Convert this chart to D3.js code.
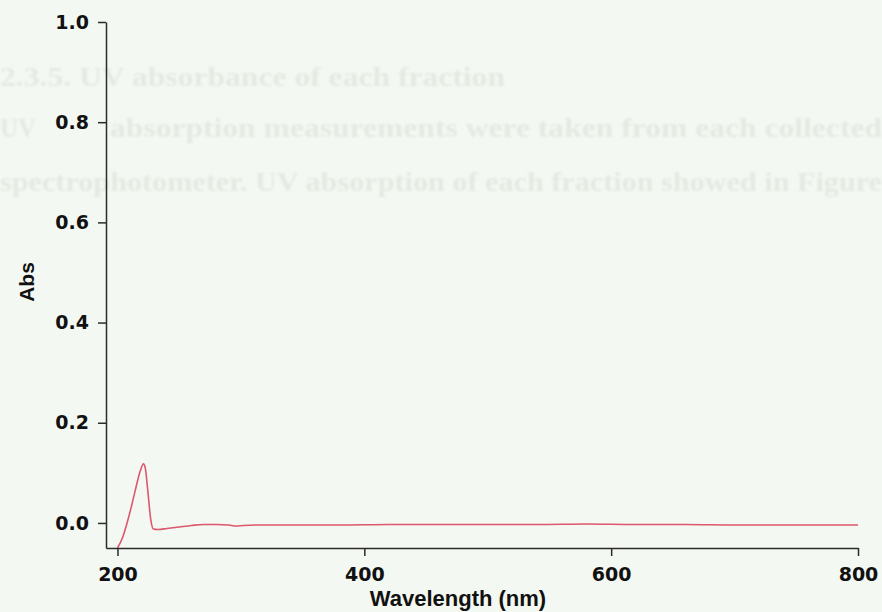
<!DOCTYPE html>
<html>
<head>
<meta charset="utf-8">
<script src="https://cdn.jsdelivr.net/npm/d3@7"></script>
<style>
  html, body { margin: 0; padding: 0; background: #f4f8f2; }
  svg { display: block; }
  .tick text { font-family: "DejaVu Sans", Arial, sans-serif; font-weight: bold; font-size: 19px; fill: #111; }
</style>
</head>
<body>
<svg id="chart"></svg>
<script>
// spectrum
const wavelength = [200, 204, 208, 211, 214.5, 218.5, 221, 222.5, 224.5, 227, 229, 233, 240, 250, 260, 270, 280, 290, 296, 302, 315, 340, 380, 420, 460, 500, 540, 580, 620, 660, 700, 740, 780, 800];
const absorbance = [-0.05, -0.03, 0.002, 0.03, 0.066, 0.104, 0.118, 0.11, 0.066, 0.006, -0.012, -0.013, -0.011, -0.008, -0.005, -0.003, -0.003, -0.004, -0.006, -0.005, -0.004, -0.004, -0.004, -0.003, -0.003, -0.003, -0.003, -0.002, -0.003, -0.003, -0.004, -0.004, -0.004, -0.004];

const xTicks = [200, 400, 600, 800];
const yTicks = [0.0, 0.2, 0.4, 0.6, 0.8, 1.0];

// faint show-through text from the back of the scanned page
const bleedWords = [
  {text: "2.3.5. UV absorbance of each fraction", line: 0, from: 0, to: 505},
  {text: "UV", line: 1, from: 0, to: 36},
  {text: "absorption measurements were taken from each collected", line: 1, from: 110, to: 882},
  {text: "spectrophotometer. UV absorption of each fraction showed in Figure", line: 2, from: 0, to: 882}
];
const bleedBaselines = [86, 137, 191];

const width = 882, height = 612;
const margin = {top: 22, right: 24, bottom: 64, left: 106};

const svg = d3.select('#chart')
    .attr('width', width)
    .attr('height', height);

svg.append('rect')
    .attr('width', width)
    .attr('height', height)
    .attr('fill', '#f4f8f2');

// scan blur for the show-through
svg.append('defs').append('filter')
    .attr('id', 'scan-blur')
  .append('feGaussianBlur')
    .attr('stdDeviation', 1.2);

const bleed = svg.append('g')
    .attr('filter', 'url(#scan-blur)')
    .attr('font-family', '"Liberation Serif", serif')
    .attr('font-weight', 'bold')
    .attr('font-size', 27)
    .attr('fill', '#e4e9e2');
bleed.selectAll('text')
    .data(bleedWords)
    .join('text')
    .attr('x', d => d.from)
    .attr('y', d => bleedBaselines[d.line])
    .attr('textLength', d => d.to - d.from)
    .attr('lengthAdjust', 'spacingAndGlyphs')
    .text(d => d.text);

const x = d3.scaleLinear()
    .domain([190.7, 800])
    .range([margin.left, width - margin.right]);

const y = d3.scaleLinear()
    .domain([-0.05, 1.0])
    .range([height - margin.bottom, margin.top]);

svg.select('defs').append('clipPath')
    .attr('id', 'plot-clip')
  .append('rect')
    .attr('x', margin.left)
    .attr('y', margin.top)
    .attr('width', width - margin.right - margin.left)
    .attr('height', height - margin.bottom - margin.top);

const line = d3.line()
    .x((d, i) => x(wavelength[i]))
    .y(d => y(d))
    .curve(d3.curveMonotoneX);

svg.append('path')
    .datum(absorbance)
    .attr('clip-path', 'url(#plot-clip)')
    .attr('fill', 'none')
    .attr('stroke', '#d9465f')
    .attr('stroke-width', 1.6)
    .attr('stroke-opacity', 0.9)
    .attr('d', line);

// axes
let xAxis = g => g.attr('transform', `translate(0,${height - margin.bottom})`)
    .call(d3.axisBottom(x)
        .tickValues(xTicks)
        .tickSize(8)
        .tickSizeOuter(0)
        .tickPadding(12)
        .tickFormat(d3.format('d')))
    .call(g => g.selectAll('.domain, line')
        .attr('stroke', '#2b2b2b')
        .attr('stroke-width', 1.5));

let yAxis = g => g.attr('transform', `translate(${margin.left},0)`)
    .call(d3.axisLeft(y)
        .tickValues(yTicks)
        .tickSize(8)
        .tickSizeOuter(0)
        .tickPadding(9)
        .tickFormat(d3.format('.1f')))
    .call(g => g.selectAll('.domain, line')
        .attr('stroke', '#2b2b2b')
        .attr('stroke-width', 1.5));

svg.append('g').call(xAxis);
svg.append('g').call(yAxis);

// axis titles
svg.append('text')
    .attr('x', 458)
    .attr('y', 606)
    .attr('text-anchor', 'middle')
    .attr('font-family', '"Liberation Sans", Arial, sans-serif')
    .attr('font-weight', 'bold')
    .attr('font-size', 22)
    .attr('fill', '#111')
    .text('Wavelength (nm)');

svg.append('text')
    .attr('transform', 'translate(34,282) rotate(-90)')
    .attr('text-anchor', 'middle')
    .attr('font-family', '"Liberation Sans", Arial, sans-serif')
    .attr('font-weight', 'bold')
    .attr('font-size', 21)
    .attr('fill', '#111')
    .text('Abs');
</script>
</body>
</html>
